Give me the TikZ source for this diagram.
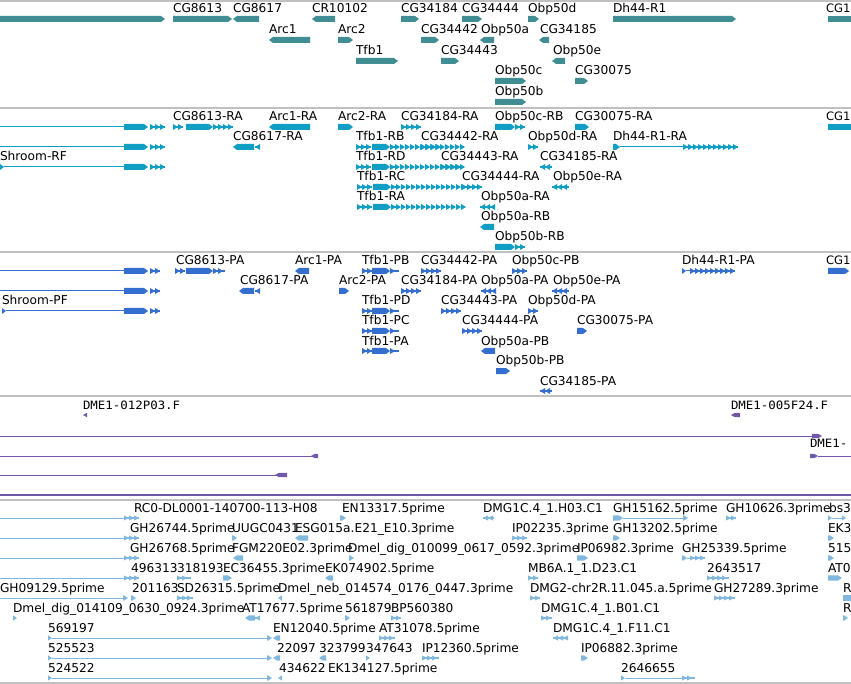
\documentclass[tikz,border=0pt]{standalone}
\usepackage{fontspec}
\setmainfont{DejaVu Sans}
\newfontfamily\dmefont{DejaVu Sans Mono}
\definecolor{gene}{RGB}{64,142,147}
\definecolor{tx}{RGB}{16,158,196}
\definecolor{prot}{RGB}{52,110,206}
\definecolor{dme}{RGB}{112,88,168}
\definecolor{est}{RGB}{128,184,224}
\definecolor{sep}{RGB}{192,192,192}
\colorlet{cur}{gene}
\def\hh{3}
\newcommand\gfw[3]{\fill[cur] (#1,#3-\hh) -- ({#2-4},#3-\hh) -- (#2,#3) -- ({#2-4},#3+\hh) -- (#1,#3+\hh) -- cycle;}
\newcommand\grv[3]{\fill[cur] (#2,#3-\hh) -- ({#1+4},#3-\hh) -- (#1,#3) -- ({#1+4},#3+\hh) -- (#2,#3+\hh) -- cycle;}
\newcommand\gchr[3]{\pgfmathtruncatemacro\nn{(#2-#1)/5-1}\fill[cur] (#1,#3-0.8) rectangle (#2,#3+0.8);
  \foreach \i in {0,...,\nn}{\fill[cur] ({#1+5*\i},#3-\hh) -- ++(5,\hh) -- ++(-5,\hh) -- cycle;}}
\newcommand\gchl[3]{\pgfmathtruncatemacro\nn{(#2-#1)/5-1}\fill[cur] (#1,#3-0.8) rectangle (#2,#3+0.8);
  \foreach \i in {0,...,\nn}{\fill[cur] ({#1+5*\i+5},#3-\hh) -- ++(-5,\hh) -- ++(5,\hh) -- cycle;}}
\newcommand\gline[3]{\draw[cur,line width=1] (#1,#3) -- (#2,#3);}
\newcommand\glbl[3]{\node[lbl] at (#1,#2) {#3};}
\newcommand\grect[3]{\fill[cur] (#1,#3-\hh) rectangle (#2,#3+\hh);}
\begin{document}
\begin{tikzpicture}[x=1pt,y=-1pt,
  lbl/.style={anchor=base west,inner sep=0pt,outer sep=0pt,font=\fontsize{12.2}{14}\selectfont},
  edgelbl/.style={anchor=base west,inner sep=0pt,outer sep=0pt,font=\fontsize{11.6}{14}\selectfont},
  dlbl/.style={anchor=base west,inner sep=0pt,outer sep=0pt,font=\fontsize{11.5}{13}\dmefont},
  sepline/.style={draw=sep,line width=1.2}]
\useasboundingbox (0,0) rectangle (851,684);
\clip (0,0) rectangle (851,684);
% separators
\draw[sepline] (0,1) -- (851,1);
\draw[sepline] (0,108) -- (851,108);
\draw[sepline] (0,252) -- (851,252);
\draw[sepline] (0,396) -- (851,396);
\draw[sepline] (0,500) -- (851,500);
\draw[sepline] (0,683) -- (851,683);
% ================= gene track
\begin{scope}
\colorlet{cur}{gene}
\gfw{0}{165}{19}\gfw{173}{232}{19}\grv{233}{259}{19}\grv{312}{335}{19}
\gfw{401}{419}{19}\gfw{462}{482}{19}\gfw{528}{539}{19}\gfw{613}{736}{19}\grect{828}{851}{19}
\glbl{173}{13}{CG8613}\glbl{233}{13}{CG8617}\glbl{312}{13}{CR10102}\glbl{401}{13}{CG34184}
\glbl{462}{13}{CG34444}\glbl{528}{13}{Obp50d}\glbl{613}{13}{Dh44-R1}\node[edgelbl] at (826,13) {CG1};
\grv{269}{310}{40}\gfw{338}{353}{40}\gfw{421}{439}{40}\grv{480}{494}{40}\grv{539}{549}{40}
\glbl{269}{34}{Arc1}\glbl{338}{34}{Arc2}\glbl{421}{34}{CG34442}\glbl{481}{34}{Obp50a}\glbl{540}{34}{CG34185}
\gfw{356}{398}{61}\gfw{441}{459}{61}\grv{552}{565}{61}
\glbl{356}{55}{Tfb1}\glbl{441}{55}{CG34443}\glbl{553}{55}{Obp50e}
\gfw{495}{526}{81}\gfw{575}{588}{81}
\glbl{495}{75}{Obp50c}\glbl{575}{75}{CG30075}
\gfw{495}{526}{102}
\glbl{495}{96}{Obp50b}
\end{scope}
% ================= transcript track
\begin{scope}
\colorlet{cur}{tx}
\foreach \yy in {127,147}{\gline{0}{124}{\yy}\gfw{124}{148}{\yy}\gchr{150}{165}{\yy}}
\gfw{0}{4}{167}\gline{4}{124}{167}\gfw{124}{148}{167}\gchr{150}{165}{167}
\glbl{0}{161}{Shroom-RF}
% row 1
\gchr{173}{183}{127}\gfw{186}{213}{127}\gchr{213}{233}{127}\glbl{173}{121}{CG8613-RA}
\grv{269}{310}{127}\glbl{269}{121}{Arc1-RA}
\gfw{338}{353}{127}\glbl{338}{121}{Arc2-RA}
\gchr{401}{421}{127}\glbl{401}{121}{CG34184-RA}
\gfw{495}{515}{127}\gchr{515}{525}{127}\glbl{495}{121}{Obp50c-RB}
\gfw{575}{589}{127}\glbl{575}{121}{CG30075-RA}
\grect{828}{851}{127}\node[edgelbl] at (826,121) {CG1};
% row 2
\grv{233}{254}{147}\gchl{255}{260}{147}\glbl{233}{141}{CG8617-RA}
\gchr{421}{441}{147}\glbl{421}{141}{CG34442-RA}
\gchr{528}{538}{147}\glbl{528}{141}{Obp50d-RA}
\gfw{613}{620}{147}\gline{620}{683}{147}\gchr{683}{738}{147}\glbl{613}{141}{Dh44-R1-RA}
% Tfb1 transcripts
\foreach \yy/\xx/\nm in {147/356/Tfb1-RB,167/356/Tfb1-RD,187/357/Tfb1-RC,207/357/Tfb1-RA}{
  \gchr{\xx}{\xx+15}{\yy}\gfw{\xx+16}{\xx+34}{\yy}\gchr{\xx+34}{\xx+43}{\yy}\glbl{\xx}{\yy-6}{\nm}}
% row 3
\gchr{441}{461}{167}\glbl{441}{161}{CG34443-RA}
\gchl{540}{552}{167}\glbl{540}{161}{CG34185-RA}
% row 4
\gchr{462}{482}{187}\glbl{462}{181}{CG34444-RA}
\gchl{552}{569}{187}\glbl{553}{181}{Obp50e-RA}
% row 5-7
\gchl{480}{495}{207}\glbl{481}{201}{Obp50a-RA}
\grv{480}{494}{227}\glbl{481}{221}{Obp50a-RB}
\gfw{495}{515}{247}\gchr{515}{525}{247}\glbl{495}{241}{Obp50b-RB}
\end{scope}
% ================= protein track
\begin{scope}
\colorlet{cur}{prot}
\foreach \yy in {271,291}{\gline{0}{124}{\yy}\gfw{124}{148}{\yy}\gchr{150}{160}{\yy}}
\gfw{2}{6}{311}\gline{6}{124}{311}\gfw{124}{148}{311}\gchr{150}{160}{311}
\glbl{2}{305}{Shroom-PF}
% row 1
\gchr{175}{185}{271}\gfw{186}{213}{271}\gchr{213}{225}{271}\glbl{176}{265}{CG8613-PA}
\grv{295}{309}{271}\glbl{295}{265}{Arc1-PA}
\gchr{421}{441}{271}\glbl{421}{265}{CG34442-PA}
\gchr{512}{527}{271}\glbl{512}{265}{Obp50c-PB}
\gfw{682}{686}{271}\gline{686}{690}{271}\gchr{690}{735}{271}\glbl{682}{265}{Dh44-R1-PA}
\gfw{828}{849}{271}\node[edgelbl] at (826,265) {CG1};
% Tfb1 proteins
\foreach \yy/\nm in {271/Tfb1-PB,311/Tfb1-PD,331/Tfb1-PC,351/Tfb1-PA}{
  \gchr{362}{372}{\yy}\gfw{372}{390}{\yy}\gchr{390}{399}{\yy}\glbl{362}{\yy-6}{\nm}}
% row 2
\grv{239}{254}{291}\gchl{255}{260}{291}\glbl{240}{285}{CG8617-PA}
\gfw{339}{349}{291}\glbl{339}{285}{Arc2-PA}
\gchr{401}{421}{291}\glbl{401}{285}{CG34184-PA}
\gchl{481}{496}{291}\glbl{481}{285}{Obp50a-PA}
\gchl{552}{569}{291}\glbl{553}{285}{Obp50e-PA}
% row 3
\gchr{441}{461}{311}\glbl{441}{305}{CG34443-PA}
\gchr{528}{538}{311}\glbl{528}{305}{Obp50d-PA}
% row 4
\gchr{462}{482}{331}\glbl{462}{325}{CG34444-PA}
\gfw{577}{587}{331}\glbl{577}{325}{CG30075-PA}
% rows 5-7
\grv{481}{495}{351}\glbl{481}{345}{Obp50a-PB}
\gfw{496}{510}{371}\glbl{496}{365}{Obp50b-PB}
\gchl{540}{552}{391}\glbl{540}{385}{CG34185-PA}
\end{scope}
% ================= DME1 track
\begin{scope}
\colorlet{cur}{dme}
\def\hh{2.2}
\node[dlbl] at (83,409) {\scalebox{1.08}[1]{DME1-012P03.F}};
\node[dlbl] at (731,409) {\scalebox{1.08}[1]{DME1-005F24.F}};
\node[dlbl] at (810,447) {\scalebox{1.08}[1]{DME1-}};
\grv{83}{87}{415}\grv{731}{740}{415}
\gline{0}{814}{436}\gfw{812}{822}{436}
\gline{0}{316}{456}\grv{311}{318}{456}
\gfw{810}{818}{456}\gline{818}{851}{456}
\gline{0}{278}{475}\grv{275}{287}{475}
\draw[cur,line width=1.2] (0,495) -- (851,495);
\end{scope}
% ================= EST track
\begin{scope}
\colorlet{cur}{est}
\def\hh{2.6}
\foreach \yy in {518,538,558,578}{\gline{0}{124}{\yy}\gchr{124}{139}{\yy}}
% row 1
\glbl{134}{512}{RC0-DL0001-140700-113-H08}
\gfw{340}{346}{518}\glbl{342}{512}{EN13317.5prime}
\gchl{483}{494}{518}\glbl{483}{512}{DMG1C.4\_1.H03.C1}
\gfw{613}{623}{518}\gline{623}{686}{518}\gfw{683}{688}{518}\glbl{613}{512}{GH15162.5prime}
\gchr{726}{736}{518}\glbl{726}{512}{GH10626.3prime}
\gfw{828}{832}{518}\gline{832}{843}{518}\gfw{842}{846}{518}\glbl{829}{512}{bs3}
% row 2
\glbl{130}{532}{GH26744.5prime}
\gfw{232}{237}{538}\glbl{232}{532}{UUGC0431}
\grv{295}{308}{538}\glbl{295}{532}{ESG015a.E21\_E10.3prime}
\gchr{512}{527}{538}\glbl{512}{532}{IP02235.3prime}
\gfw{613}{620}{538}\glbl{613}{532}{GH13202.5prime}
\gfw{828}{834}{538}\glbl{828}{532}{EK3}
% row 3
\glbl{130}{552}{GH26768.5prime}
\grv{233}{243}{558}\glbl{232}{552}{FGM220E02.3prime}
\gfw{349}{354}{558}\glbl{348}{552}{Dmel\_dig\_010099\_0617\_0592.3prime}
\gfw{577}{588}{558}\glbl{577}{552}{IP06982.3prime}
\gfw{682}{687}{558}\gline{687}{690}{558}\gchr{690}{705}{558}\glbl{682}{552}{GH25339.5prime}
\gfw{828}{834}{558}\glbl{828}{552}{515}
% row 4
\glbl{131}{572}{496313}
\gchr{177}{191}{578}\glbl{177}{572}{318193}
\gfw{223}{232}{578}\glbl{223}{572}{EC36455.3prime}
\grv{325}{333}{578}\glbl{325}{572}{EK074902.5prime}
\gchr{528}{538}{578}\glbl{528}{572}{MB6A.1\_1.D23.C1}
\gchr{707}{729}{578}\glbl{707}{572}{2643517}
\gfw{828}{842}{578}\glbl{828}{572}{AT0}
% row 5
\gline{0}{126}{598}\gfw{123}{128}{598}\glbl{0}{592}{GH09129.5prime}
\gfw{131}{136}{598}\glbl{132}{592}{201163}
\gchr{177}{193}{598}\glbl{177}{592}{SD26315.5prime}
\grv{278}{282}{598}\glbl{278}{592}{Dmel\_neb\_014574\_0176\_0447.3prime}
\gchr{530}{540}{598}\glbl{530}{592}{DMG2-chr2R.11.045.a.5prime}
\gchr{714}{735}{598}\glbl{714}{592}{GH27289.3prime}
\grect{843}{851}{598}\glbl{843}{592}{R}
% row 6
\gfw{13}{17}{618}\glbl{13}{612}{Dmel\_dig\_014109\_0630\_0924.3prime}
\grv{245}{255}{618}\gchl{255}{260}{618}\glbl{242}{612}{AT17677.5prime}
\gfw{345}{350}{618}\glbl{345}{612}{561879}
\gchr{391}{401}{618}\glbl{391}{612}{BP560380}
\gchr{541}{552}{618}\glbl{541}{612}{DMG1C.4\_1.B01.C1}
\gfw{843}{848}{618}\glbl{843}{612}{R}
% rows 7-9 long lines
\foreach \yy/\nm in {638/569197,658/525523,678/524522}{
  \gfw{48}{52}{\yy}\gline{52}{270}{\yy}\gfw{267}{272}{\yy}\glbl{48}{\yy-6}{\nm}}
% row 7
\grv{273}{280}{638}\glbl{273}{632}{EN12040.5prime}
\gchr{379}{395}{638}\glbl{379}{632}{AT31078.5prime}
\gchl{553}{568}{638}\glbl{553}{632}{DMG1C.4\_1.F11.C1}
% row 8
\grv{273}{280}{658}\glbl{277}{652}{22097}
\grv{319}{326}{658}\glbl{319}{652}{323799}
\gfw{366}{370}{658}\glbl{366}{652}{347643}
\gchr{422}{439}{658}\glbl{422}{652}{IP12360.5prime}
\gfw{581}{588}{658}\glbl{581}{652}{IP06882.3prime}
% row 9
\grv{278}{282}{678}\glbl{279}{672}{434622}
\glbl{328}{672}{EK134127.5prime}
\gfw{621}{625}{678}\gline{625}{684}{678}\gchr{682}{695}{678}\glbl{621}{672}{2646655}
\end{scope}
\end{tikzpicture}
\end{document}
